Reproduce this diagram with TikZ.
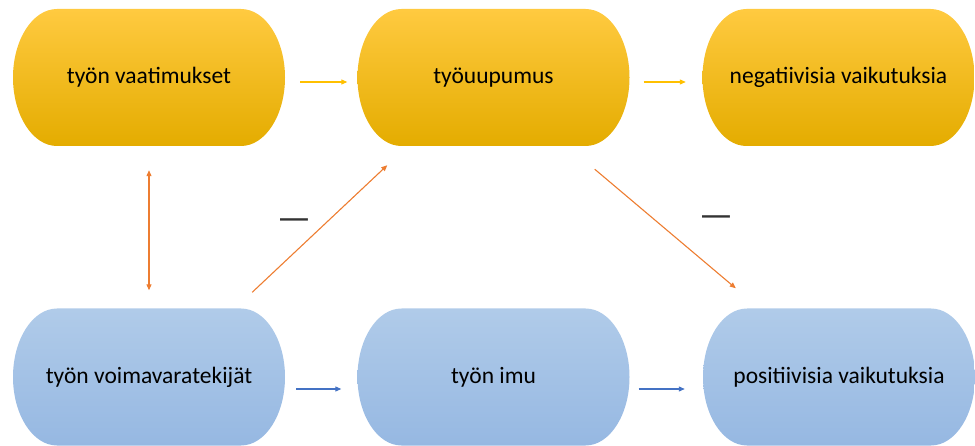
\documentclass[tikz,border=0pt]{standalone}
\usepackage{fontspec}
\setmainfont{Carlito}
\usetikzlibrary{arrows.meta}

\definecolor{GoldTop}{RGB}{255,202,64}
\definecolor{GoldMid}{RGB}{255,192,0}
\definecolor{GoldBot}{RGB}{228,172,0}
\definecolor{BlueTop}{RGB}{176,203,233}
\definecolor{BlueBot}{RGB}{150,184,226}
\definecolor{ArrowGold}{RGB}{255,192,0}
\definecolor{ArrowBlue}{RGB}{68,114,196}
\definecolor{ArrowOrange}{RGB}{237,125,49}

\tikzset{
  boxtext/.style={rectangle, minimum width=272pt, minimum height=137pt, inner sep=0pt,
    font=\fontsize{23.5}{28}\selectfont, text=black},
  gold/.style={top color=GoldTop, middle color=GoldMid, bottom color=GoldBot},
  blue/.style={top color=BlueTop, bottom color=BlueBot},
  flow/.style={-{Triangle[length=6pt,width=5pt]}, line width=1.1pt},
  link/.style={line width=1.1pt, ArrowOrange},
  minus/.style={font=\fontsize{38}{38}\selectfont, text=black!80},
}

% terminator shape: half-ellipse ends, then the named node on top
\newcommand\pillbox[5]{%
  \shade[#4] ({#2-136+44},{#3+68.5}) -- ({#2+136-44},{#3+68.5})
    arc[start angle=90,end angle=-90,x radius=44,y radius=68.5]
    -- ({#2-136+44},{#3-68.5})
    arc[start angle=270,end angle=90,x radius=44,y radius=68.5] -- cycle;
  \node[boxtext] (#1) at (#2,#3) {\raisebox{-3pt}{#5}};
}

\begin{document}
\begin{tikzpicture}[x=1pt,y=1pt]
  \useasboundingbox (0,0) rectangle (975,445);

  % top row
  \pillbox{demands}{149}{367.5}{gold}{työn vaatimukset}
  \pillbox{burnout}{493.5}{367.5}{gold}{työuupumus}
  \pillbox{negative}{838.5}{367.5}{gold}{negatiivisia vaikutuksia}

  % bottom row
  \pillbox{resources}{149}{68}{blue}{työn voimavaratekijät}
  \pillbox{engagement}{493.5}{68}{blue}{työn imu}
  \pillbox{positive}{839}{68}{blue}{positiivisia vaikutuksia}

  % horizontal arrows
  \draw[flow, ArrowGold, shorten <=15pt, shorten >=10pt]
    ([yshift=-4.5pt]demands.east) -- ([yshift=-4.5pt]burnout.west);
  \draw[flow, ArrowGold, shorten <=14pt, shorten >=16.5pt]
    ([yshift=-4.5pt]burnout.east) -- ([yshift=-4.5pt]negative.west);
  \draw[flow, ArrowBlue, shorten <=11pt, shorten >=16pt]
    ([yshift=-12pt]resources.east) -- ([yshift=-12pt]engagement.west);
  \draw[flow, ArrowBlue, shorten <=9pt, shorten >=18pt]
    ([yshift=-12pt]engagement.east) -- ([yshift=-12pt]positive.west);

  % cross links
  \draw[link, {Triangle[length=6pt,width=5pt]}-{Triangle[length=6pt,width=5pt]},
    shorten <=24pt, shorten >=18pt] (demands.south) -- (resources.north);
  \draw[link, -{Triangle[length=6pt,width=5pt]}]
    ([shift={(-33,16)}]resources.north east) -- ([shift={(30,-19)}]burnout.south west);
  \draw[link, -{Triangle[length=6pt,width=5pt]}]
    ([shift={(-35,-23)}]burnout.south east) -- ([shift={(33,20)}]positive.north west);

  % signs
  \node[minus] (minusA) at (294,220.5) {—};
  \node[minus] (minusB) at (716,223.5) {—};
\end{tikzpicture}
\end{document}
